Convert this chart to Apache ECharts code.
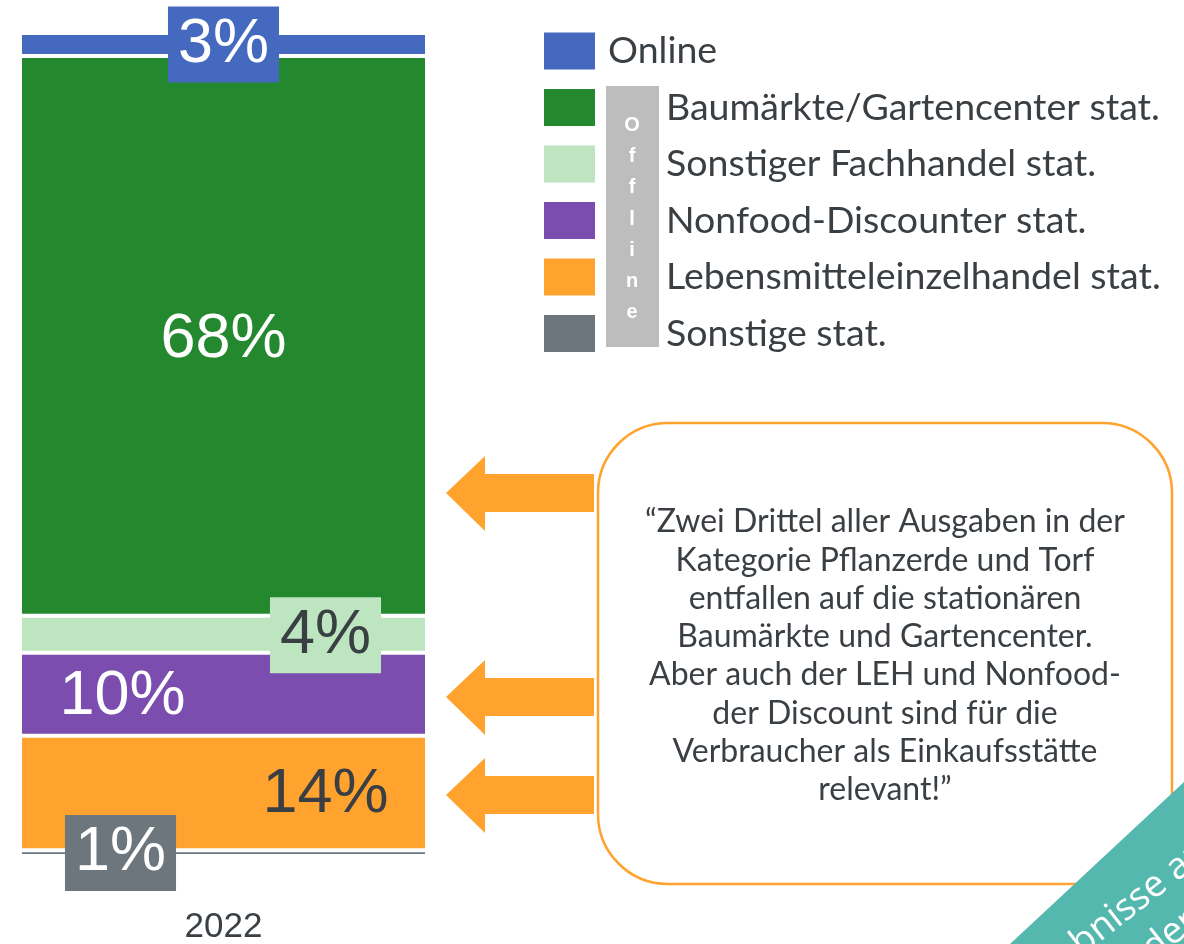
<!DOCTYPE html>
<html>
<head>
<meta charset="utf-8">
<script src="https://cdn.jsdelivr.net/npm/echarts@6/dist/echarts.min.js"></script>
<style>
	html, body { margin: 0; padding: 0; background: #fff; }
	#chart { width: 1184px; height: 944px; }
</style>
</head>
<body>
<div id="chart"></div>
<script>
const myChart = echarts.init(document.getElementById('chart'), null, { renderer: 'canvas' })

// Daten (Anteile in %, von unten nach oben gestapelt)
const years = ['2022']
const channels = [
	'Sonstige stat.',
	'Lebensmitteleinzelhandel stat.',
	'Nonfood-Discounter stat.',
	'Sonstiger Fachhandel stat.',
	'Baumärkte/Gartencenter stat.',
	'Online',
]
const shares = [0.7, 13.9, 10.1, 4.5, 68.0, 2.8]
const shareLabels = ['1%', '14%', '10%', '4%', '68%', '3%']
const colors = ['#6C767C', '#FFA22E', '#7B4DAF', '#BDE5BF', '#24882F', '#4469BE']
const legendOrder = [
	'Online',
	'Baumärkte/Gartencenter stat.',
	'Sonstiger Fachhandel stat.',
	'Nonfood-Discounter stat.',
	'Lebensmitteleinzelhandel stat.',
	'Sonstige stat.',
]
const quote = [
	'“Zwei Drittel aller Ausgaben in der',
	'Kategorie Pflanzerde und Torf',
	'entfallen auf die stationären',
	'Baumärkte und Gartencenter.',
	'Aber auch der LEH und Nonfood-',
	'der Discount sind für die',
	'Verbraucher als Einkaufsstätte',
	'relevant!”',
]

const dark = '#3A3F44'
const orange = '#FFA22E'

// Label-Stil je Segment
const labelStyles = {
	'Sonstige stat.': { color: '#fff', offset: [-103, 0], backgroundColor: '#6C767C', padding: [7, 10] },
	'Lebensmitteleinzelhandel stat.': { color: dark, offset: [102, 2] },
	'Nonfood-Discounter stat.': { color: '#fff', offset: [-101, 2] },
	'Sonstiger Fachhandel stat.': { color: dark, offset: [102, 1], backgroundColor: '#BDE5BF', padding: [7, 10] },
	'Baumärkte/Gartencenter stat.': { color: '#fff', offset: [0, 4] },
	'Online': { color: '#fff', offset: [0, 0], backgroundColor: '#4469BE', padding: [7, 10] },
}
const onTop = ['Sonstige stat.', 'Sonstiger Fachhandel stat.', 'Online']

const series = channels.map((name, i) => ({
	name: name,
	type: 'bar',
	stack: 'total',
	barWidth: '100%',
	z: onTop.includes(name) ? 4 : 2,
	data: [shares[i]],
	itemStyle: { color: colors[i], borderColor: '#fff', borderWidth: 2 },
	label: Object.assign({
		show: true,
		position: 'inside',
		formatter: () => shareLabels[i],
		fontFamily: 'Liberation Sans, Arial, sans-serif',
		fontSize: 63,
		lineHeight: 62,
	}, labelStyles[name]),
	emphasis: { disabled: true },
}))

const arrowYs = [493, 697, 795]
const arrows = arrowYs.map((y) => ({
	type: 'polygon',
	shape: {
		points: [[446, y], [485, y - 37], [485, y - 19], [594, y - 19], [594, y + 19], [485, y + 19], [485, y + 38]],
	},
	style: { fill: orange },
}))

const offlineLetters = 'Offline'.split('').join('\n')
const bannerAngle = (38 * Math.PI) / 180

let option = {
	animation: false,
	grid: { left: 20, right: 757, top: 33, bottom: 88, outerBoundsMode: 'none', containLabel: false },
	xAxis: {
		type: 'category',
		data: years,
		axisLine: { show: false },
		axisTick: { show: false },
		axisLabel: { fontSize: 35, color: '#3B4045', margin: 54, fontFamily: 'Liberation Sans, Arial, sans-serif' },
	},
	yAxis: {
		type: 'value',
		min: 0,
		max: 100,
		show: false,
		splitLine: { show: false },
	},
	legend: {
		orient: 'vertical',
		left: 544,
		top: 32,
		padding: 0,
		itemWidth: 51,
		itemHeight: 37,
		itemGap: 18.5,
		icon: 'rect',
		itemStyle: { borderWidth: 0 },
		selectedMode: false,
		textStyle: { fontFamily: 'Lato, sans-serif', fontSize: 37.5, color: dark },
		data: legendOrder.map((name) => ({
			name: name,
			textStyle: { padding: name === 'Online' ? [4, 0, 0, 8] : [4, 0, 0, 66] },
		})),
	},
	graphic: [
		{
			type: 'rect',
			shape: { x: 606, y: 86, width: 53, height: 261 },
			style: { fill: '#BDBDBD' },
		},
		{
			type: 'text',
			x: 632,
			y: 219,
			style: {
				text: offlineLetters,
				fill: '#fff',
				fontFamily: 'Liberation Sans, Arial, sans-serif',
				fontWeight: 'bold',
				fontSize: 20,
				lineHeight: 31.3,
				textAlign: 'center',
				textVerticalAlign: 'middle',
			},
		},
		...arrows,
		{
			type: 'rect',
			shape: { x: 598, y: 423, width: 574, height: 461, r: 70 },
			style: { fill: '#fff', stroke: orange, lineWidth: 2.5 },
		},
		{
			type: 'text',
			x: 885,
			y: 656,
			style: {
				text: quote.join('\n'),
				fill: dark,
				fontFamily: 'Lato, sans-serif',
				fontSize: 32,
				lineHeight: 38.3,
				textAlign: 'center',
				textVerticalAlign: 'middle',
			},
		},
		{
			type: 'polygon',
			shape: { points: [[1010, 944], [1184, 782], [1184, 944]] },
			style: { fill: '#55B8AE' },
		},
		{
			type: 'text',
			x: 1015,
			y: 995,
			rotation: bannerAngle,
			style: {
				text: 'Ergebnisse aus',
				fill: '#fff',
				fontFamily: 'Open Sans, sans-serif',
				fontSize: 37,
				textAlign: 'left',
				textVerticalAlign: 'middle',
			},
		},
		{
			type: 'text',
			x: 1147,
			y: 953,
			rotation: bannerAngle,
			style: {
				text: 'der Marktforschung',
				fill: '#fff',
				fontFamily: 'Open Sans, sans-serif',
				fontSize: 37,
				textAlign: 'left',
				textVerticalAlign: 'middle',
			},
		},
	],
	series: series,
}
myChart.setOption(option)

window.addEventListener('resize', () => {
	myChart.resize()
})
</script>
</body>
</html>
